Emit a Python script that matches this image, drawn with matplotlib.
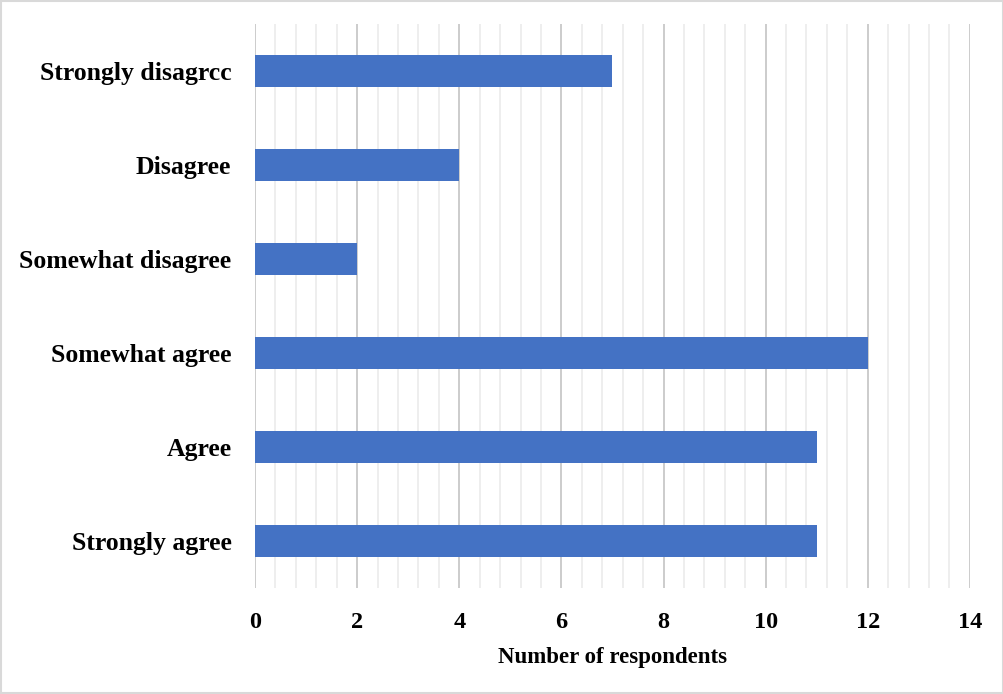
import numpy as np
import matplotlib.pyplot as plt
from matplotlib.ticker import MultipleLocator

categories = ['Strongly agree', 'Agree', 'Somewhat agree',
              'Somewhat disagree', 'Disagree', 'Strongly disagrcc']
counts = [11, 11, 12, 2, 4, 7]

plt.rcParams['font.family'] = ['Liberation Serif', 'DejaVu Serif']

fig = plt.figure(figsize=(10.04, 6.94), dpi=100)
ax = fig.add_axes([0.254, 0.1527, 0.712, 0.8127])

y = np.arange(len(categories))
ax.barh(y, counts, height=0.35, color='#4472C4', zorder=3)

ax.set_xlim(0, 14)
ax.set_ylim(-0.5, len(categories) - 0.5)
ax.xaxis.set_major_locator(MultipleLocator(2))
ax.xaxis.set_minor_locator(MultipleLocator(0.4))
ax.grid(axis='x', which='major', color='#cccccc', linewidth=1.4, zorder=0)
ax.grid(axis='x', which='minor', color='#ededed', linewidth=1.3, zorder=0)
ax.set_yticks(y)
ax.set_yticklabels(categories, fontsize=18.5, fontweight='bold')
ax.tick_params(axis='x', which='both', length=0, labelsize=17.5, pad=17)
ax.tick_params(axis='y', length=0, pad=17)
for lbl in ax.get_xticklabels():
    lbl.set_fontweight('bold')
for s in ax.spines.values():
    s.set_visible(False)

ax.set_xlabel('Number of respondents', fontsize=16.5, fontweight='bold', labelpad=10)

fig.patches.append(plt.Rectangle((0.001, 0.001), 0.998, 0.998, transform=fig.transFigure,
                                 fill=False, edgecolor='#d9d9d9', linewidth=1.5))

fig.savefig('out.png', dpi=100)
